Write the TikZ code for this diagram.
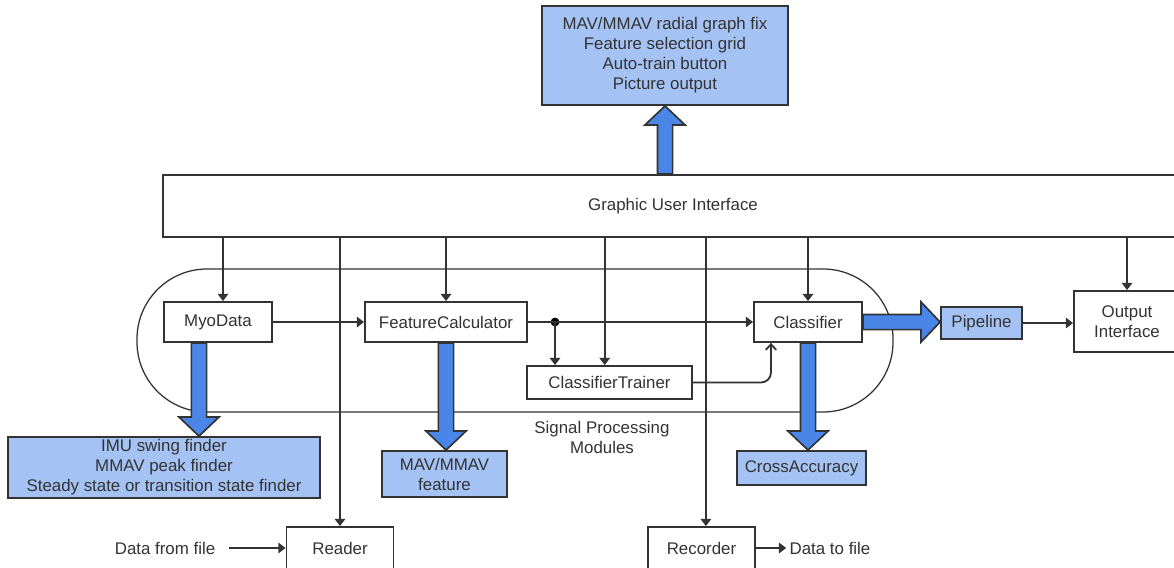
\documentclass[tikz,border=0pt]{standalone}
\usepackage{fontspec}
\setmainfont{Liberation Sans}
\usetikzlibrary{arrows.meta,calc}

\definecolor{lightblue}{HTML}{A4C2F4}
\definecolor{darkblue}{HTML}{4A86E8}
\definecolor{linegray}{HTML}{333333}

\tikzset{
  box/.style={draw=linegray, line width=1.3pt, fill=white, align=center, inner sep=0pt},
  bluebox/.style={box, fill=lightblue},
  bigarrow/.style={draw=linegray, line width=1.2pt, fill=darkblue, line join=miter},
  conn/.style={draw=linegray, line width=1.3pt, -{Triangle[length=0.18cm,width=0.26cm]}},
  thinconn/.style={draw=linegray, line width=1.3pt, -{Straight Barb[length=0.14cm,width=0.26cm]}},
  label/.style={align=center, inner sep=0pt}
}

\newcommand{\fatarrow}[2]{%
  \coordinate (fab) at ($(#2)!0.475cm!(#1)$);
  \draw[bigarrow] ($(#1)!0.19cm!90:(#2)$) -- ($(fab)!0.19cm!90:(#2)$)
    -- ($(fab)!0.5cm!90:(#2)$) -- (#2) -- ($(fab)!0.5cm!-90:(#2)$)
    -- ($(fab)!0.19cm!-90:(#2)$) -- ($(#1)!0.19cm!-90:(#2)$) -- cycle;}

\begin{document}
\begin{tikzpicture}[x=0.025cm, y=-0.025cm, font=\fontsize{12}{14.2}\selectfont, text=linegray]

      \useasboundingbox (0,0) rectangle (1174,567);

      \draw[linegray, line width=0.9pt, rounded corners=1.75cm] (137,269) rectangle (893,412);

      \begin{scope}[every node/.style={box}]
        \node (gui) at (673,206) [minimum width=25.5cm, minimum height=1.55cm] {Graphic User Interface};
        \node (myo) at (218,322) [minimum width=2.7cm, minimum height=1cm] {MyoData};
        \node (feat) at (446,322) [minimum width=4.05cm, minimum height=1cm] {FeatureCalculator};
        \node (trainer) at (609.5,382.5) [minimum width=4.125cm, minimum height=0.825cm] {ClassifierTrainer};
        \node (classifier) at (808,322) [minimum width=2.7cm, minimum height=1cm] {Classifier};
        \node (output) at (1127,321.5) [minimum width=2.65cm, minimum height=1.525cm] {Output\\Interface};
        \node (reader) at (340,548) [minimum width=2.675cm, minimum height=1.05cm] {Reader};
        \node (recorder) at (701.5,548) [minimum width=2.675cm, minimum height=1.05cm] {Recorder};
      \end{scope}

      \begin{scope}[every node/.style={bluebox}]
        \node (fixes) at (665,55.5) [minimum width=6.15cm, minimum height=2.475cm] {MAV/MMAV radial graph fix\\Feature selection grid\\Auto-train button\\Picture output};
        \node (pipeline) at (981.5,323) [minimum width=2.025cm, minimum height=0.8cm] {Pipeline};
        \node (imu) at (164,467.5) [minimum width=7.8cm, minimum height=1.525cm] {IMU swing finder\\MMAV peak finder\\Steady state or transition state finder};
        \node (mav) at (444.5,474) [minimum width=3.125cm, minimum height=1.15cm] {MAV/MMAV\\feature};
        \node (cross) at (801.5,468) [minimum width=3.225cm, minimum height=0.85cm] {CrossAccuracy};
      \end{scope}

      \begin{scope}[every node/.style={label}]
        \node (spm) at (602,437) {Signal Processing\\Modules};
        \node (dfile) at (165,548) {Data from file};
        \node (dtofile) at (830,548) {Data to file};
      \end{scope}

      \node (dot) at (555,322) [circle, fill=black, inner sep=0pt, minimum size=0.22cm] {};

      \coordinate (gm) at ([xshift=0.125cm]myo.north);
      \coordinate (gt) at ([xshift=-0.12cm]trainer.north);
      \coordinate (gr) at ([xshift=0.11cm]recorder.north);
      \coordinate (ct) at ([xshift=-0.925cm]classifier.south);

      \begin{scope}[every edge/.style={conn}]
        \path (myo) edge (feat);
        \path (feat.east) edge (classifier.west);
        \path (dot.center) edge (dot.center |- trainer.north);
        \path (pipeline.east) edge (pipeline.east -| output.west);
        \path (gm |- gui.south) edge (gm);
        \path (gui.south -| reader.north) edge (reader.north);
        \path (gui.south -| feat.north) edge (feat.north);
        \path (gt |- gui.south) edge (gt);
        \path (gr |- gui.south) edge (gr);
        \path (gui.south -| classifier.north) edge (classifier.north);
        \path (gui.south -| output.north) edge (output.north);
        \path (dfile.east) edge[shorten <=0.33cm] (reader.west);
        \path (recorder.east) edge[shorten >=0.08cm] (dtofile.west);
      \end{scope}

      \draw[thinconn, rounded corners=0.25cm] (trainer.east) -| (ct);

      \coordinate (ua) at (fixes.south |- gui.north);
      \coordinate (ma) at ([xshift=-0.475cm]myo.south);
      \coordinate (mb) at (ma |- imu.north);
      \coordinate (fb) at (feat.south |- mav.north);
      \coordinate (cb) at (classifier.south |- cross.north);
      \coordinate (pb) at (classifier.east -| pipeline.west);
      \fatarrow{ua}{fixes.south}
      \fatarrow{ma}{mb}
      \fatarrow{feat.south}{fb}
      \fatarrow{classifier.south}{cb}
      \fatarrow{classifier.east}{pb}

    \end{tikzpicture}
\end{document}
